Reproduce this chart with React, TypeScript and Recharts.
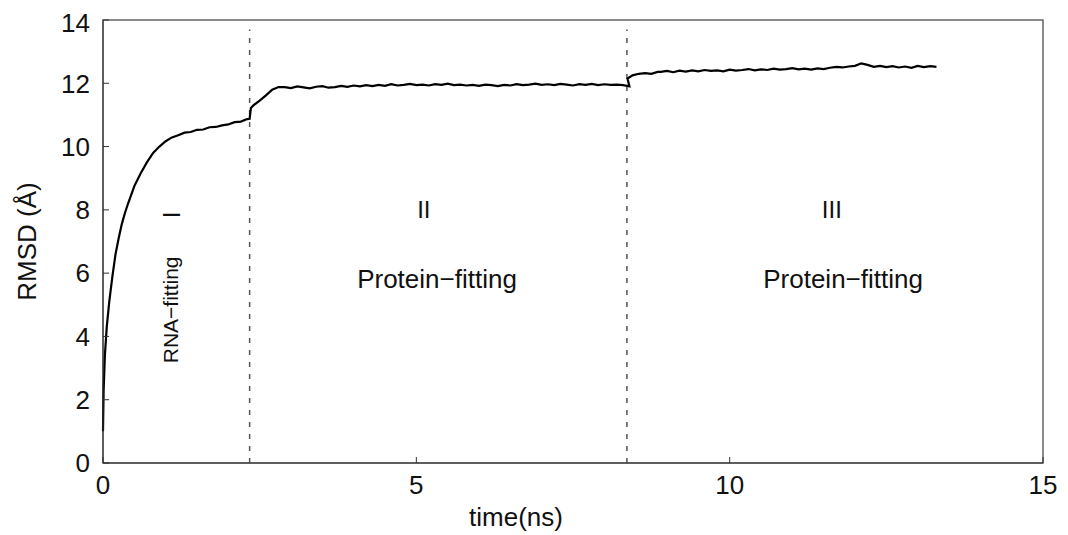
import React from 'react'
import {
    LineChart, Line, XAxis, YAxis, ReferenceLine, ReferenceArea, ReferenceDot, Label
} from 'recharts'

// RNA-fitting phase, sampled unevenly (fast initial rise)
const stage1Time = [0, 0.01, 0.03, 0.06, 0.1, 0.15, 0.2, 0.25, 0.3, 0.35, 0.4, 0.5, 0.6, 0.7, 0.8, 0.9,
    1.0, 1.1, 1.2, 1.3, 1.4, 1.5, 1.6, 1.7, 1.8, 1.9, 2.0, 2.1, 2.2, 2.3, 2.34]
const stage1Rmsd = [1.0, 2.3, 3.4, 4.3, 5.1, 5.9, 6.6, 7.1, 7.55, 7.9, 8.2, 8.75, 9.15, 9.5, 9.8, 10.0,
    10.17, 10.29, 10.36, 10.44, 10.46, 10.53, 10.54, 10.61, 10.62, 10.67, 10.7, 10.77, 10.79, 10.87, 10.88]

// protein-fitting II: jump after the first switch
const stage2RiseTime = [2.36, 2.4, 2.5, 2.6, 2.7, 2.8]
const stage2RiseRmsd = [11.22, 11.3, 11.45, 11.62, 11.8, 11.88]
const stage2Start = 2.9
const stage2Rmsd = [
    11.88, 11.85, 11.90, 11.87, 11.84, 11.89, 11.91, 11.86, 11.88, 11.92,
    11.89, 11.93, 11.90, 11.94, 11.91, 11.95, 11.92, 11.97, 11.93, 11.95,
    11.98, 11.94, 11.96, 11.93, 11.97, 11.95, 11.99, 11.94, 11.96, 11.93,
    11.95, 11.92, 11.96, 11.94, 11.91, 11.95, 11.93, 11.97, 11.94, 11.96,
    11.99, 11.95, 11.97, 11.94, 11.98, 11.96, 11.93, 11.97, 11.95, 11.98,
    11.94, 11.97, 11.95, 11.96, 11.94, 11.90
]

// protein-fitting III
const stage3RiseTime = [8.37, 8.45, 8.55, 8.65, 8.75, 8.85]
const stage3RiseRmsd = [12.15, 12.25, 12.3, 12.32, 12.3, 12.36]
const stage3Start = 8.9
const stage3Rmsd = [
    12.36, 12.39, 12.35, 12.40, 12.37, 12.41, 12.38, 12.42, 12.39, 12.41,
    12.38, 12.43, 12.40, 12.42, 12.45, 12.41, 12.44, 12.42, 12.46, 12.43,
    12.45, 12.48, 12.44, 12.46, 12.43, 12.47, 12.45, 12.49, 12.52, 12.50,
    12.53, 12.55, 12.63, 12.58, 12.52, 12.55, 12.51, 12.54, 12.50, 12.53,
    12.49, 12.55, 12.51, 12.54, 12.52
]
const sampleStep = 0.1

const phaseSwitches = [2.34, 8.36]
const xTicks = [0, 5, 10, 15]
const yTicks = [0, 2, 4, 6, 8, 10, 12, 14]

const font = '"Liberation Sans", Arial, Helvetica, sans-serif'

const data = [
    ...stage1Time.map((t, i) => ({ t, rmsd: stage1Rmsd[i] })),
    ...stage2RiseTime.map((t, i) => ({ t, rmsd: stage2RiseRmsd[i] })),
    ...stage2Rmsd.map((v, i) => ({ t: +(stage2Start + i * sampleStep).toFixed(2), rmsd: v })),
    ...stage3RiseTime.map((t, i) => ({ t, rmsd: stage3RiseRmsd[i] })),
    ...stage3Rmsd.map((v, i) => ({ t: +(stage3Start + i * sampleStep).toFixed(2), rmsd: v })),
]

function note(text: string, rotate = false, size = 21) {
    return (props: any) => {
        const vb = props.viewBox || {}
        const cx = vb.x + (vb.width || 0) / 2
        const cy = vb.y + (vb.height || 0) / 2
        return (
            <text
                x={cx}
                y={cy}
                textAnchor="middle"
                dominantBaseline="central"
                fontSize={size}
                fontFamily={font}
                fill="#111"
                transform={rotate ? `rotate(-90, ${cx}, ${cy})` : undefined}
            >
                {text}
            </text>
        )
    }
}

const XTitle = (props: any) => {
    const vb = props.viewBox
    return (
        <text x={vb.x + vb.width / 2 - 57} y={vb.y + 63} textAnchor="middle"
            fontSize={26} fontFamily={font} fill="#111">
            time(ns)
        </text>
    )
}

const YTitle = (props: any) => {
    const cx = 19
    const cy = props.viewBox.y + props.viewBox.height / 2
    return (
        <text x={cx} y={cy} textAnchor="middle" dominantBaseline="central"
            fontSize={26} fontFamily={font} fill="#111"
            transform={`rotate(-90, ${cx}, ${cy})`}>
            RMSD (Å)
        </text>
    )
}

export default function App() {
    return (
        <div style={{ width: 1060, height: 527, background: '#fff' }}>
            <LineChart
                width={1060}
                height={527}
                data={data}
                margin={{ top: 12, right: 25, left: 0, bottom: 0 }}
            >
                <XAxis
                    dataKey="t"
                    type="number"
                    domain={[0, 15]}
                    ticks={xTicks}
                    height={72}
                    tickSize={-6}
                    tickMargin={19}
                    stroke="#333"
                    tick={{ fontSize: 26, fill: '#111', fontFamily: font }}
                >
                    <Label content={XTitle} />
                </XAxis>
                <YAxis
                    type="number"
                    domain={[0, 14]}
                    ticks={yTicks}
                    width={95}
                    tickSize={-6}
                    tickMargin={19}
                    stroke="#333"
                    tick={{ fontSize: 26, fill: '#111', fontFamily: font }}
                >
                    <Label content={YTitle} />
                </YAxis>

                <ReferenceArea x1={0} x2={15} y1={0} y2={14} fill="none" stroke="#666" strokeWidth={1.5} />

                {phaseSwitches.map((x) => (
                    <ReferenceLine
                        key={x}
                        segment={[{ x, y: 0 }, { x, y: 13.7 }]}
                        stroke="#555"
                        strokeWidth={1.5}
                        strokeDasharray="5 7"
                    />
                ))}

                <ReferenceDot x={1.07} y={4.84} r={0} stroke="none" label={note('RNA−fitting', true, 21)} />
                <ReferenceDot x={1.1} y={7.84} r={0} stroke="none" label={note('I', true, 24)} />
                <ReferenceDot x={5.12} y={8.0} r={0} stroke="none" label={note('II', false, 24)} />
                <ReferenceDot x={5.33} y={5.8} r={0} stroke="none" label={note('Protein−fitting', false, 26)} />
                <ReferenceDot x={11.63} y={8.0} r={0} stroke="none" label={note('III', false, 24)} />
                <ReferenceDot x={11.81} y={5.8} r={0} stroke="none" label={note('Protein−fitting', false, 26)} />

                <Line
                    type="linear"
                    dataKey="rmsd"
                    stroke="#000"
                    strokeWidth={2.2}
                    dot={false}
                    isAnimationActive={false}
                />
            </LineChart>
        </div>
    )
}
